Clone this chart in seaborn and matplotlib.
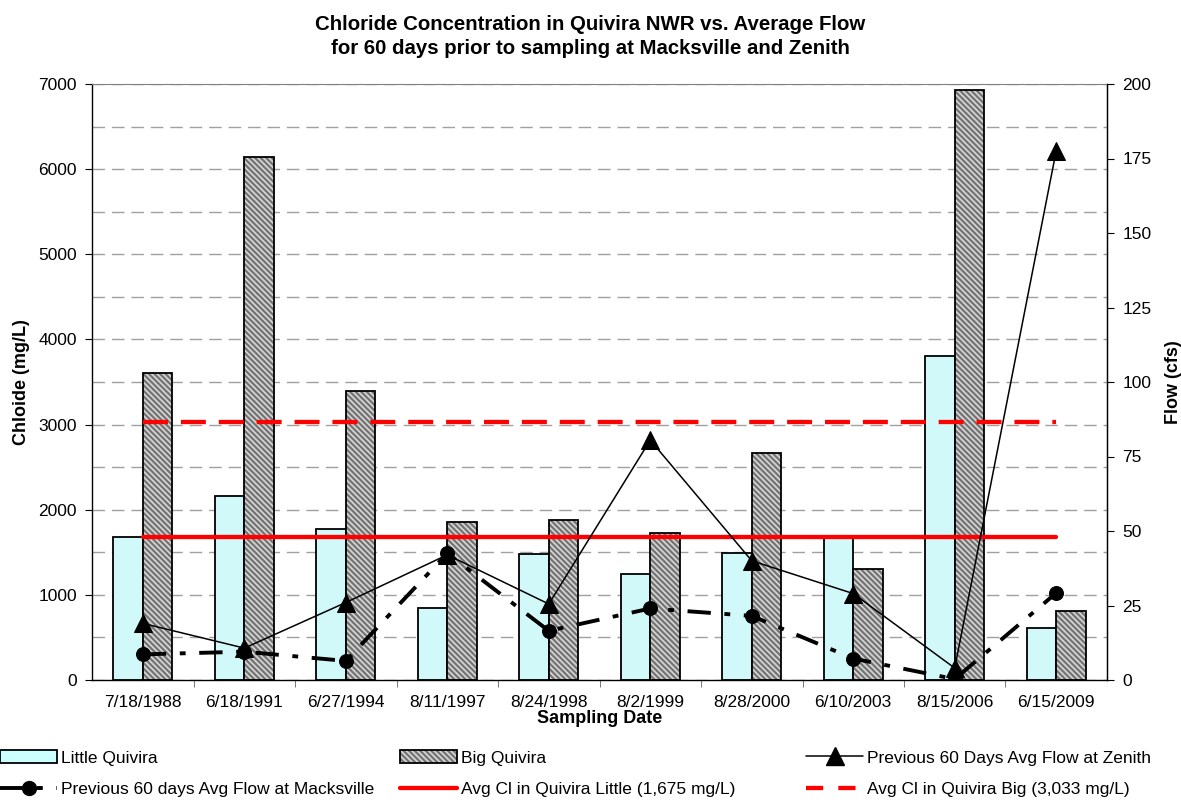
import numpy as np
import pandas as pd
import matplotlib
matplotlib.use("Agg")
import matplotlib.pyplot as plt
from matplotlib.patches import Patch, Rectangle
from matplotlib.lines import Line2D
from matplotlib.ticker import MultipleLocator
import seaborn as sns

# Sampling dates (categories)
dates = ["7/18/1988", "6/18/1991", "6/27/1994", "8/11/1997", "8/24/1998",
         "8/2/1999", "8/28/2000", "6/10/2003", "8/15/2006", "6/15/2009"]

# Chloride concentrations (mg/L)
little_quivira = [1680, 2160, 1770, 840, 1480, 1240, 1490, 1670, 3800, 610]
big_quivira = [3610, 6140, 3390, 1860, 1880, 1730, 2670, 1300, 6930, 810]

# Previous 60-day average flow (cfs)
flow_zenith = [19, 10.7, 26, 42, 25.5, 80.5, 40, 29, 4, 177.6]
flow_macksville = [8.6, 9.5, 6.4, 42.5, 16.5, 24, 21.5, 7.2, 0.3, 29.2]

# Average chloride levels (mg/L)
avg_little = 1675
avg_big = 3033

sns.set_style("ticks")
plt.rcParams["font.family"] = ["Liberation Sans", "DejaVu Sans"]
plt.rcParams["hatch.linewidth"] = 1.2
for key in ["text.color", "axes.labelcolor", "xtick.color", "ytick.color",
            "xtick.labelcolor", "ytick.labelcolor"]:
    plt.rcParams[key] = "black"

CYAN = "#CCFFFF"
GRAY = "#747474"
HATCH_COL = "#d8d8d8"
HATCH = "\\\\\\\\\\\\"
TICK_FS = 12.5
LABEL_FS = 13
MACK_DASH = (0, (6, 3.5, 1.5, 3.5))

fig = plt.figure(figsize=(11.81, 8.0), dpi=100)
ax = fig.add_axes([0.078, 0.15, 0.8593, 0.745])

n = len(dates)
pos = np.arange(n)

df = pd.DataFrame({
    "date": dates * 2,
    "site": ["Little Quivira"] * n + ["Big Quivira"] * n,
    "cl": little_quivira + big_quivira,
})

sns.barplot(data=df, x="date", y="cl", hue="site", order=dates,
            hue_order=["Little Quivira", "Big Quivira"],
            palette={"Little Quivira": CYAN, "Big Quivira": GRAY},
            width=0.58, dodge=True, edgecolor="black", linewidth=1.3,
            legend=False, ax=ax, zorder=2)

# hatch the Big Quivira bars and redraw their outlines on top
bars = [p for p in ax.patches if isinstance(p, Rectangle)]
big_bars = bars[n:2 * n]
for p in big_bars:
    p.set_hatch(HATCH)
    p.set_edgecolor(HATCH_COL)
    p.set_linewidth(0)
    ax.add_patch(Rectangle(p.get_xy(), p.get_width(), p.get_height(),
                           fill=False, edgecolor="black", linewidth=1.3,
                           zorder=2.5))

# average chloride lines
sns.lineplot(x=[pos[0], pos[-1]], y=[avg_little, avg_little], ax=ax,
             color="red", linewidth=3.1, zorder=3)
sns.lineplot(x=[pos[0], pos[-1]], y=[avg_big, avg_big], ax=ax,
             color="red", linewidth=3.1, zorder=3, linestyle=(0, (5.8, 3.0)))

ax.set_xlim(-0.5, n - 0.5)
ax.set_ylim(0, 7000)
ax.yaxis.set_major_locator(MultipleLocator(1000))
ax.yaxis.set_minor_locator(MultipleLocator(500))
ax.grid(False)
ax.grid(True, axis="y", which="both", color="#a0a0a0", linestyle=(0, (9, 5)),
        linewidth=1.0, zorder=0)
ax.set_axisbelow(True)
ax.set_xticks(pos)
ax.set_xticklabels(dates)
ax.set_xticks(pos[:-1] + 0.5, minor=True)
ax.tick_params(axis="x", which="major", length=0, labelsize=TICK_FS, pad=11)
ax.tick_params(axis="x", which="minor", length=5, color="#606060")
ax.tick_params(axis="y", which="major", length=5, labelsize=TICK_FS, pad=6)
ax.tick_params(axis="y", which="minor", length=0)
ax.set_xlabel("Sampling Date", fontsize=LABEL_FS, fontweight="bold", labelpad=0)
ax.set_ylabel("Chloide (mg/L)", fontsize=LABEL_FS, fontweight="bold", labelpad=6)

for s in ["left", "bottom", "right"]:
    ax.spines[s].set_color("black")
    ax.spines[s].set_linewidth(1.0)
ax.spines["top"].set_color("#808080")

# flow on the secondary axis
ax2 = ax.twinx()
sns.lineplot(x=pos, y=flow_zenith, ax=ax2, color="black", linewidth=1.1,
             marker="^", markersize=13, markeredgecolor="black", zorder=4)
sns.lineplot(x=pos, y=flow_macksville, ax=ax2, color="black", linewidth=2.8,
             marker="o", markersize=10, markeredgecolor="black",
             linestyle=MACK_DASH, zorder=4)
ax2.set_ylim(0, 200)
ax2.yaxis.set_major_locator(MultipleLocator(25))
ax2.grid(False)
ax2.tick_params(axis="y", length=5, labelsize=TICK_FS, pad=6)
ax2.set_ylabel("Flow (cfs)", fontsize=LABEL_FS, fontweight="bold", labelpad=10)
for s in ["left", "top", "bottom"]:
    ax2.spines[s].set_visible(False)
ax2.spines["right"].set_color("black")

fig.text(0.5, 0.981, "Chloride Concentration in Quivira NWR vs. Average Flow\n"
         "for 60 days prior to sampling at Macksville and Zenith",
         ha="center", va="top", fontsize=14.7, fontweight="bold", linespacing=1.3)

# legend, three columns
h_little = Patch(facecolor=CYAN, edgecolor="black", linewidth=1.3)
h_big = (Patch(facecolor=GRAY, edgecolor=HATCH_COL, linewidth=0, hatch=HATCH),
         Patch(facecolor="none", edgecolor="black", linewidth=1.3))
h_zen = Line2D([], [], color="black", linewidth=1.1, marker="^", markersize=13)
h_mack = Line2D([], [], color="black", linewidth=2.8, marker="o", markersize=10,
                linestyle=MACK_DASH)
h_avl = Line2D([], [], color="red", linewidth=3.1)
h_avb = Line2D([], [], color="red", linewidth=3.1, linestyle=(0, (4.0, 3.5)))

cols = [
    ([h_little, h_mack], ["Little Quivira", "Previous 60 days Avg Flow at Macksville"], 0.0),
    ([h_big, h_avl], ["Big Quivira", "Avg Cl in Quivira Little (1,675 mg/L)"], 0.3387),
    ([h_zen, h_avb], ["Previous 60 Days Avg Flow at Zenith", "Avg Cl in Quivira Big (3,033 mg/L)"], 0.6825),
]
for hs, ls, x0 in cols:
    fig.legend(hs, ls, loc="upper left", bbox_to_anchor=(x0, 0.063),
               frameon=False, fontsize=TICK_FS, handlelength=3.3,
               handleheight=0.85, handletextpad=0.2, labelspacing=0.9,
               borderaxespad=0, borderpad=0.0)

fig.savefig("out.png", dpi=100)
